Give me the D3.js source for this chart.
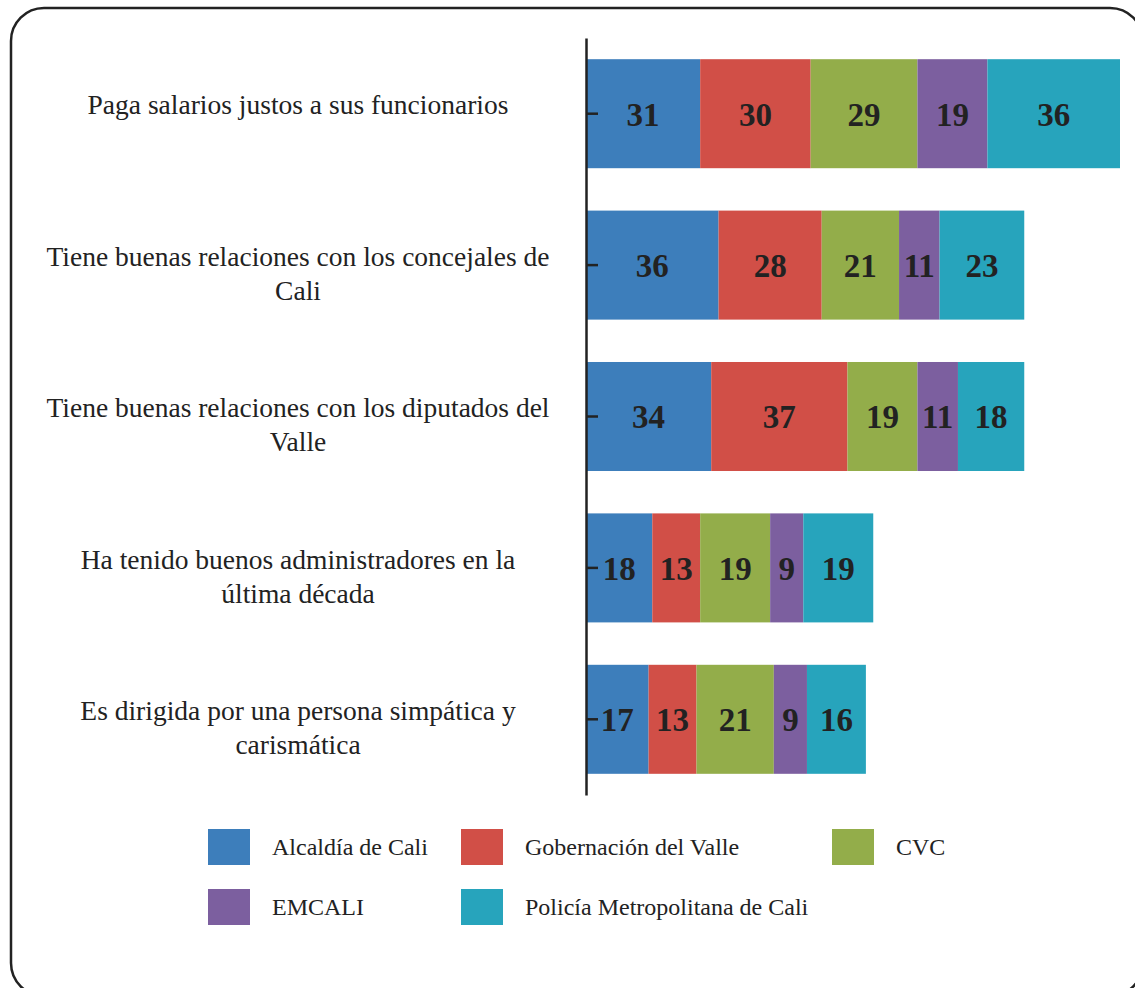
<!DOCTYPE html>
<meta charset="utf-8">
<style type="text/css">
	body { margin: 0; background: #fff; }
</style>
<body>
	<div id="chart"></div>
</body>
<script src="https://d3js.org/d3.v7.min.js"></script>
<script>

	// data
	const categories = [
		"Paga salarios justos a sus funcionarios",
		"Tiene buenas relaciones con los concejales de Cali",
		"Tiene buenas relaciones con los diputados del Valle",
		"Ha tenido buenos administradores en la última década",
		"Es dirigida por una persona simpática y carismática"
	];
	// where each category label breaks, as in the picture
	const categoryLines = [
		["Paga salarios justos a sus funcionarios"],
		["Tiene buenas relaciones con los concejales de", "Cali"],
		["Tiene buenas relaciones con los diputados del", "Valle"],
		["Ha tenido buenos administradores en la", "última década"],
		["Es dirigida por una persona simpática y", "carismática"]
	];
	const seriesNames = ["Alcaldía de Cali", "Gobernación del Valle", "CVC", "EMCALI", "Policía Metropolitana de Cali"];
	const alcaldia = [31, 36, 34, 18, 17];
	const gobernacion = [30, 28, 37, 13, 13];
	const cvc = [29, 21, 19, 19, 21];
	const emcali = [19, 11, 11, 9, 9];
	const policia = [36, 23, 18, 19, 16];
	const colors = ["#3d7ebb", "#d14f47", "#93ad4a", "#7c5f9f", "#27a4bc"];

	const width = 1135;
	const height = 988;
	const serif = "Liberation Serif";

	const rows = categories.map((c, i) => ({
		cat: c,
		vals: [alcaldia[i], gobernacion[i], cvc[i], emcali[i], policia[i]]
	}));
	const stack = d3.stack().keys(d3.range(5)).value((d, k) => d.vals[k]);
	const layers = stack(rows);

	const svg = d3.select("#chart").append("svg")
		.attr("width", width)
		.attr("height", height);

	// rounded frame
	svg.append("rect")
		.attr("x", 11).attr("y", 8)
		.attr("width", 1132).attr("height", 988)
		.attr("rx", 33)
		.attr("fill", "none")
		.attr("stroke", "#222")
		.attr("stroke-width", 2.5);

	const x = d3.scaleLinear()
		.domain([0, 145])
		.range([586, 1120]);

	const y = d3.scaleBand()
		.domain(categories)
		.range([38, 795])
		.paddingInner(0.28)
		.paddingOuter(0.14);

	// bars
	const g = svg.append("g");
	layers.forEach((layer, k) => {
		g.selectAll(".bar" + k)
			.data(layer)
			.join("rect")
			.attr("x", d => x(d[0]))
			.attr("y", d => y(d.data.cat))
			.attr("width", d => x(d[1]) - x(d[0]))
			.attr("height", y.bandwidth())
			.attr("fill", colors[k]);
	});
	layers.forEach((layer, k) => {
		g.selectAll(".val" + k)
			.data(layer)
			.join("text")
			.attr("font-family", serif)
			.attr("font-size", 33)
			.attr("font-weight", "bold")
			.attr("fill", "#222")
			.attr("x", d => (x(d[0]) + x(d[1])) / 2)
			.attr("y", d => y(d.data.cat) + y.bandwidth() / 2)
			.attr("dy", "0.36em")
			.attr("text-anchor", "middle")
			.text(d => d[1] - d[0]);
	});

	// axis line with inward ticks
	const axis = svg.append("g")
		.attr("transform", `translate(${x(0)},0)`)
		.call(d3.axisRight(y).tickSize(12).tickSizeOuter(0).tickFormat(""));
	axis.select(".domain").attr("stroke", "#222").attr("stroke-width", 2.5);
	axis.selectAll(".tick line").attr("stroke", "#222").attr("stroke-width", 2.5);

	// category labels
	svg.append("g").selectAll("text")
		.data(categories)
		.join("text")
		.attr("font-family", serif)
		.attr("font-size", 27.5)
		.attr("fill", "#222")
		.attr("text-anchor", "middle")
		.attr("y", d => y(d) + y.bandwidth() / 2 - 9)
		.attr("dy", "0.35em")
		.selectAll("tspan")
		.data((d, i) => categoryLines[i])
		.join("tspan")
		.attr("x", 298)
		.attr("dy", (d, j) => j === 0 ? null : 34)
		.text(d => d);

	// legend
	const legendPos = [[208, 829], [461, 829], [832, 829], [208, 889], [461, 889]];
	const legend = svg.append("g").selectAll("g")
		.data(seriesNames)
		.join("g")
		.attr("transform", (d, i) => `translate(${legendPos[i][0]},${legendPos[i][1]})`);
	legend.append("rect")
		.attr("width", 42).attr("height", 36)
		.attr("fill", (d, i) => colors[i]);
	legend.append("text")
		.attr("font-family", serif)
		.attr("font-size", 24)
		.attr("fill", "#222")
		.attr("x", 64).attr("y", 18)
		.attr("dy", "0.35em")
		.text(d => d);

</script>
